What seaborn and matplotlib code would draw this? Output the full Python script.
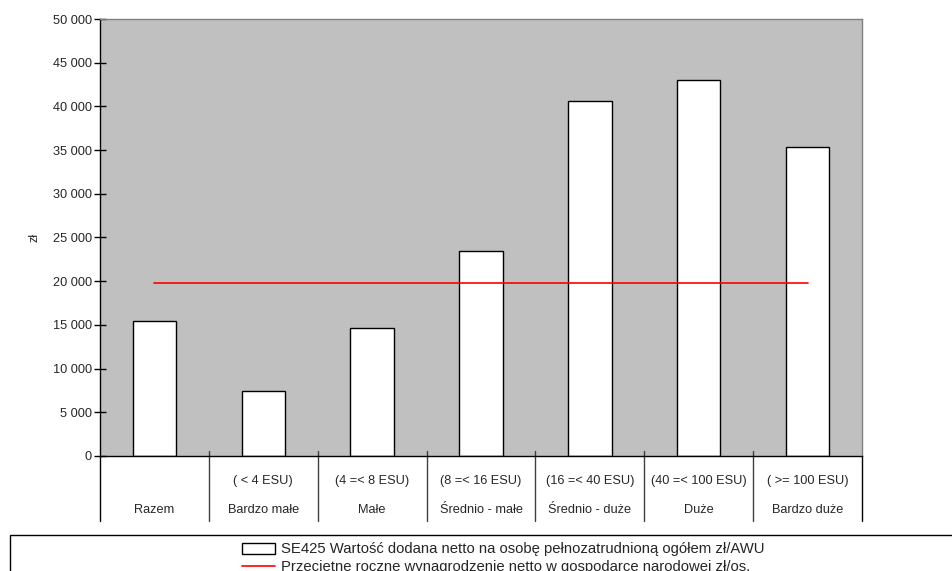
import numpy as np
import pandas as pd
import seaborn as sns
import matplotlib.pyplot as plt
from matplotlib.patches import Patch, Rectangle
from matplotlib.lines import Line2D
import matplotlib.transforms as mtransforms

categories = ["Razem", "Bardzo małe", "Małe", "Średnio - małe", "Średnio - duże", "Duże", "Bardzo duże"]
esu_labels = ["", "( < 4 ESU)", "(4 =< 8 ESU)", "(8 =< 16 ESU)", "(16 =< 40 ESU)", "(40 =< 100 ESU)", "( >= 100 ESU)"]
value_added = [15450, 7470, 14650, 23450, 40600, 43000, 35320]
avg_wage = [19830, 19830, 19830, 19830, 19830, 19830, 19830]
yticks = [0, 5000, 10000, 15000, 20000, 25000, 30000, 35000, 40000, 45000, 50000]
ytick_labels = ["0", "5 000", "10 000", "15 000", "20 000", "25 000", "30 000", "35 000", "40 000", "45 000", "50 000"]
bar_label = "SE425 Wartość dodana netto na osobę pełnozatrudnioną ogółem zł/AWU"
line_label = "Przeciętne roczne wynagrodzenie netto w gospodarce narodowej zł/os."

sns.set_theme(style="white")
plt.rcParams['font.family'] = ['Liberation Sans', 'DejaVu Sans']

W, H = 952, 571
fig = plt.figure(figsize=(W / 100, H / 100), dpi=100)
ax = fig.add_axes([100 / W, (H - 456) / H, 762 / W, 437 / H])
ax.set_facecolor("#c0c0c0")

df = pd.DataFrame({"cat": categories, "val": value_added})
sns.barplot(data=df, x="cat", y="val", ax=ax, color="white", edgecolor="black",
            linewidth=1.0, width=0.4, saturation=1)
ax.plot(np.arange(len(categories)), avg_wage, color="#ff0000", lw=1.2)

ax.set_xlim(-0.5, len(categories) - 0.5)
ax.set_ylim(0, 50000)
ax.set_yticks(yticks)
ax.set_yticklabels(ytick_labels, fontsize=9.2)
ax.tick_params(axis="y", direction="inout", length=8, width=1, left=True, color="black", pad=2)
ax.set_xticks([])
ax.set_xlabel("")
ax.set_ylabel("zł", fontsize=9)
ax.yaxis.set_label_coords((40 - 100) / 762, 0.5)

for s in ["top", "right"]:
    ax.spines[s].set_color("#808080")
    ax.spines[s].set_linewidth(1)
for s in ["left", "bottom"]:
    ax.spines[s].set_color("black")
    ax.spines[s].set_linewidth(1)

trans = mtransforms.blended_transform_factory(ax.transData, ax.transAxes)
n = len(categories)
ylow = -(521 - 456) / 437
for i in range(n + 1):
    x = i - 0.5
    ytop = 0 if i in (0, n) else 5 / 437
    col = "black" if i in (0, n) else "#404040"
    ax.add_line(Line2D([x, x], [ytop, ylow], transform=trans, color=col, lw=1, clip_on=False))
for i, (c, e) in enumerate(zip(categories, esu_labels)):
    ax.text(i, -(481 - 456) / 437, e, transform=trans, ha="center", va="center", fontsize=9.2)
    ax.text(i, -(510 - 456) / 437, c, transform=trans, ha="center", va="center", fontsize=9.2)

# legend box
fig.patches.append(Rectangle((10 / W, -0.1), 1.0, (H - 535) / H + 0.1, transform=fig.transFigure,
                             facecolor="white", edgecolor="black", lw=1))
handles = [Patch(facecolor="white", edgecolor="black", lw=1), Line2D([], [], color="#ff0000", lw=1.2)]
fig.legend(handles, [bar_label, line_label], loc="upper center", bbox_to_anchor=(503 / W, 1 - 535 / H),
           frameon=False, fontsize=10.7, handlelength=2.2, handleheight=0.8, handletextpad=0.4,
           labelspacing=0.25, borderpad=0)

fig.savefig("out.png", dpi=100)
